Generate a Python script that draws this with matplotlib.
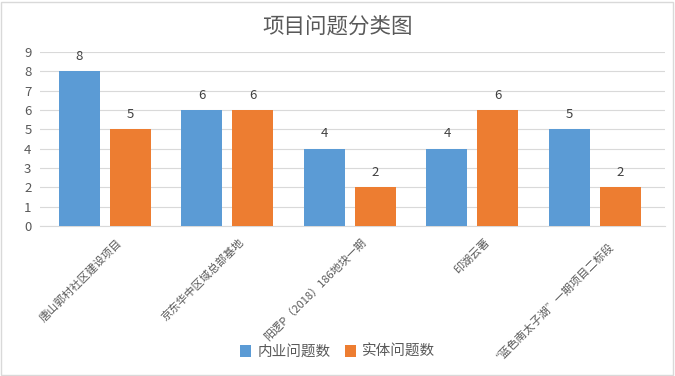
import matplotlib
matplotlib.use("Agg")
import matplotlib.pyplot as plt
import matplotlib.transforms as mtransforms
import numpy as np

plt.rcParams['font.family'] = ['Noto Sans CJK SC', 'DejaVu Sans']

PROJECTS = ["唐山郭村社区建设项目", "京东华中区域总部基地", "阳逻P（2018）186地块一期",
            "印湖云著", "“蓝色南太子湖”一期项目二标段"]
INTERNAL = [8, 6, 4, 4, 5]
PHYSICAL = [5, 6, 2, 6, 2]
SERIES_NAMES = ["内业问题数", "实体问题数"]
COLORS = ["#5B9BD5", "#ED7D31"]
TEXT_COLOR = "#595959"

fig = plt.figure(figsize=(6.75, 3.76), dpi=100)
ax = fig.add_axes([0.059, 0.399, 0.926, 0.463])

x = np.arange(len(PROJECTS))
w = 0.335
b1 = ax.bar(x - 0.208, INTERNAL, w, color=COLORS[0], label=SERIES_NAMES[0], zorder=3)
b2 = ax.bar(x + 0.208, PHYSICAL, w, color=COLORS[1], label=SERIES_NAMES[1], zorder=3)
for bars in (b1, b2):
    for r in bars:
        ax.annotate(str(int(r.get_height())), (r.get_x() + r.get_width() / 2, r.get_height()),
                    xytext=(0, 6), textcoords="offset points", ha="center", va="bottom",
                    fontsize=9.5, color="#404040")

ax.set_xlim(-0.53, 4.57)
ax.set_ylim(0, 9)
ax.set_yticks(range(10))
ax.yaxis.grid(True, color="#D9D9D9", linewidth=0.8, zorder=0)
for s in ("left", "right", "top"):
    ax.spines[s].set_visible(False)
ax.spines["bottom"].set_color("#D9D9D9")
ax.tick_params(axis="y", length=0, labelsize=9.5, labelcolor=TEXT_COLOR, pad=6)
ax.tick_params(axis="x", length=0)
ax.set_xticks(x)
labels = ax.set_xticklabels(PROJECTS, rotation=45, ha="right", rotation_mode="anchor",
                            fontsize=8, color=TEXT_COLOR)
shift = mtransforms.ScaledTranslation(11 / 100, -6 / 100, fig.dpi_scale_trans)
for lab in labels:
    lab.set_transform(lab.get_transform() + shift)

fig.suptitle("项目问题分类图", y=0.928, fontsize=15.5, color=TEXT_COLOR, va="center")
fig.legend(loc="lower center", bbox_to_anchor=(0.5, 0.01), ncol=2, frameon=False,
           fontsize=10.5, labelcolor=TEXT_COLOR, handlelength=0.8, handleheight=0.8,
           columnspacing=1.0, handletextpad=0.4)

fig.patches.append(plt.Rectangle((0.002, 0.003), 0.995, 0.993, transform=fig.transFigure,
                                 fill=False, edgecolor="#D9D9D9", linewidth=1))

fig.savefig("out.png", dpi=100)
